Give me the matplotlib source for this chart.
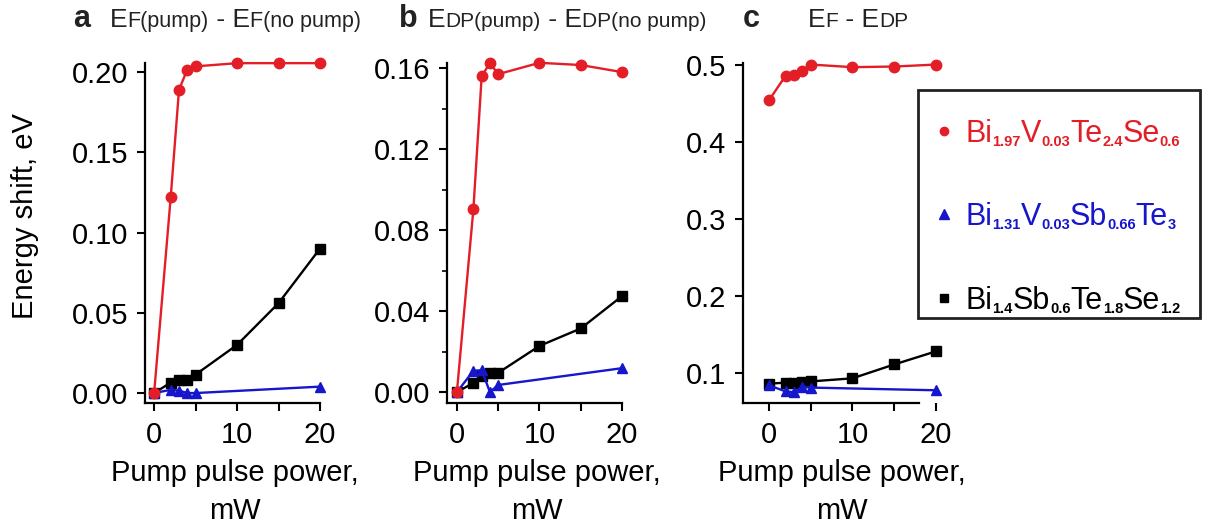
import matplotlib
matplotlib.use("Agg")
import matplotlib.pyplot as plt
from matplotlib.lines import Line2D
from matplotlib.patches import Rectangle
from matplotlib.ticker import MultipleLocator, FormatStrFormatter

plt.rcParams['font.family'] = ['Liberation Sans', 'DejaVu Sans']
plt.rcParams['mathtext.default'] = 'regular'

power = [0, 2, 3, 4, 5, 10, 15, 20]
power_blue = [0, 2, 3, 4, 5, 20]

# panel a: EF(pump) - EF(no pump)
a_red = [0.0, 0.122, 0.189, 0.2015, 0.2035, 0.2055, 0.2055, 0.2055]
a_black = [0.0, 0.0065, 0.008, 0.008, 0.0115, 0.030, 0.056, 0.090]
a_blue = [0.0, 0.002, 0.0015, 0.0, 0.0, 0.004]

# panel b: EDP(pump) - EDP(no pump)
b_red = [0.0, 0.0905, 0.156, 0.1625, 0.157, 0.1626, 0.1615, 0.158]
b_black = [0.0, 0.0045, 0.008, 0.0094, 0.0095, 0.0228, 0.0314, 0.0474]
b_blue = [0.0, 0.0105, 0.0108, 0.0, 0.0035, 0.0118]

# panel c: EF - EDP
c_red = [0.4535, 0.4855, 0.487, 0.492, 0.5, 0.4966, 0.4974, 0.5]
c_black = [0.086, 0.0875, 0.0865, 0.088, 0.089, 0.093, 0.111, 0.128]
c_blue = [0.084, 0.076, 0.075, 0.082, 0.081, 0.0775]

# compound names: (element, subscript) pairs
names = [[('Bi', '1.97'), ('V', '0.03'), ('Te', '2.4'), ('Se', '0.6')],
         [('Bi', '1.31'), ('V', '0.03'), ('Sb', '0.66'), ('Te', '3')],
         [('Bi', '1.4'), ('Sb', '0.6'), ('Te', '1.8'), ('Se', '1.2')]]

RED = '#e41e26'
BLUE = '#1616cc'
BLACK = '#000000'
FS = 21

W, H = 1208, 526
fig = plt.figure(figsize=(W / 100, H / 100), dpi=100)
renderer = fig.canvas.get_renderer()


def px_axes(left, right, top, bottom):
    return fig.add_axes([left / W, 1 - bottom / H, (right - left) / W, (bottom - top) / H])


def style(ax, xlim, ylim, yticks, xbound_hi=20, yminor=None):
    ax.set_xlim(*xlim)
    ax.set_ylim(*ylim)
    for s in ['top', 'right']:
        ax.spines[s].set_visible(False)
    for s in ['left', 'bottom']:
        ax.spines[s].set_linewidth(1.6)
    ax.spines['bottom'].set_bounds(xlim[0], xbound_hi)
    ax.set_xticks([0, 10, 20])
    ax.xaxis.set_minor_locator(MultipleLocator(5))
    ax.set_yticks(yticks)
    if yminor:
        ax.yaxis.set_minor_locator(MultipleLocator(yminor))
    ax.tick_params(which='major', direction='out', length=6, width=1.5, labelsize=FS)
    ax.tick_params(axis='y', which='major', pad=6)
    ax.tick_params(axis='x', which='major', pad=7)
    ax.tick_params(axis='x', which='minor', direction='out', length=6, width=1.5)
    ax.tick_params(axis='y', which='minor', direction='out', length=3.5, width=1.2)
    ax.set_xlabel('Pump pulse power,\nmW', fontsize=FS, labelpad=7, linespacing=1.45)


def draw(ax, red, black, blue):
    kw = dict(linewidth=1.7, markersize=7.5, clip_on=False)
    ax.plot(power, black, color=BLACK, marker='s', **kw)
    ax.plot(power_blue, blue, color=BLUE, marker='^', **kw)
    ax.plot(power, red, color=RED, marker='o', **kw)


ax_a = px_axes(145, 325, 63, 403)
draw(ax_a, a_red, a_black, a_blue)
style(ax_a, (-1.1, 20.6), (-0.0062, 0.2056), [0.0, 0.05, 0.10, 0.15, 0.20])
ax_a.yaxis.set_major_formatter(FormatStrFormatter('%.2f'))
ax_a.set_ylabel('Energy shift, eV', fontsize=FS, va='center')
ax_a.yaxis.set_label_coords(-0.667, 0.55)

ax_b = px_axes(447, 627, 63, 403)
draw(ax_b, b_red, b_black, b_blue)
style(ax_b, (-1.2, 20.6), (-0.0054, 0.1625), [0.0, 0.04, 0.08, 0.12, 0.16], yminor=0.02)
ax_b.yaxis.set_major_formatter(FormatStrFormatter('%.2f'))

ax_c = px_axes(743, 941, 63, 403)
draw(ax_c, c_red, c_black, c_blue)
style(ax_c, (-3.1, 20.6), (0.061, 0.502), [0.1, 0.2, 0.3, 0.4, 0.5], xbound_hi=18)
ax_c.yaxis.set_major_formatter(FormatStrFormatter('%.1f'))


def seq_text(x_px, y_px, parts, color='#222222'):
    # parts: (text, fontsize, weight, baseline shift in px)
    x = x_px
    for s, size, weight, dy in parts:
        t = fig.text(x / W, 1 - (y_px - dy) / H, s, fontsize=size, fontweight=weight,
                     ha='left', va='baseline', color=color)
        bb = t.get_window_extent(renderer=renderer)
        x = bb.x1


# legend: markers from the legend, rich text labels drawn in place of its labels
handles = [Line2D([], [], color=RED, marker='o', linestyle='none', markersize=6),
           Line2D([], [], color=BLUE, marker='^', linestyle='none', markersize=6.5),
           Line2D([], [], color=BLACK, marker='s', linestyle='none', markersize=6)]
leg = fig.legend(handles, ['X', 'X', 'X'], loc='upper left',
                 bbox_to_anchor=(935 / W, 1 - 119 / H), fontsize=FS,
                 frameon=False, handlelength=0.6, handletextpad=0.45,
                 labelspacing=1.9, borderpad=0, borderaxespad=0)
fig.add_artist(Rectangle((918 / W, 1 - 318 / H), 282 / W, 228 / H,
                         transform=fig.transFigure, fill=False,
                         edgecolor='#222222', linewidth=2))
fig.canvas.draw()
for t, name, c in zip(leg.get_texts(), names, [RED, BLUE, BLACK]):
    bb = t.get_window_extent(renderer=renderer)
    t.set_visible(False)
    base = H - (bb.y0 + bb.y1) / 2 + 9
    parts = []
    for el, sub in name:
        parts.append((el, 22, 'normal', 0))
        parts.append((sub, 10.5, 'bold', -4))
    seq_text(bb.x0, base, parts, color=c)

# panel titles with smaller letters after E
BIG, SMALL = 19, 15
seq_text(73, 27, [('a', 22, 'bold', 0)])
seq_text(110, 27, [('E', BIG, 'normal', 0), ('F(pump)', SMALL + 0.5, 'normal', 0),
                   (' - E', BIG, 'normal', 0), ('F(no pump)', SMALL + 0.5, 'normal', 0)])
seq_text(399, 27, [('b', 22, 'bold', 0)])
seq_text(428, 27, [('E', BIG, 'normal', 0), ('DP(pump)', SMALL, 'normal', 0),
                   (' - E', BIG, 'normal', 0), ('DP(no pump)', SMALL, 'normal', 0)])
seq_text(743, 27, [('c', 22, 'bold', 0)])
seq_text(808, 27, [('E', BIG, 'normal', 0), ('F', SMALL, 'normal', 0),
                   (' - E', BIG, 'normal', 0), ('DP', SMALL, 'normal', 0)])

fig.savefig('out.png', dpi=100)
